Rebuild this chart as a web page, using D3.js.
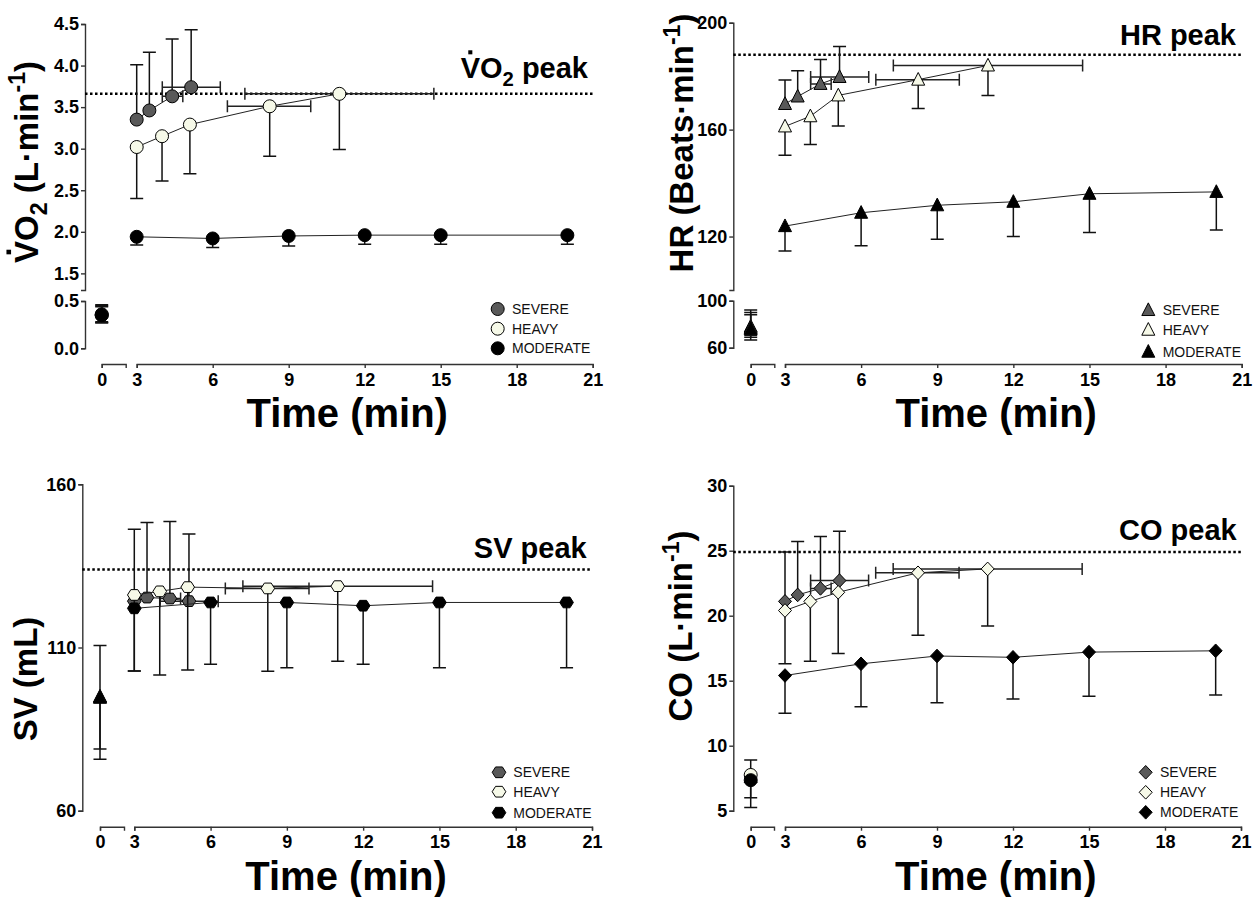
<!DOCTYPE html>
<html><head><meta charset="utf-8">
<script src="https://cdn.jsdelivr.net/npm/d3@7"></script>
<style>
body{margin:0;background:#fff}
svg{display:block}
text{font-family:"Liberation Sans",Arial,Helvetica,sans-serif}
</style>
</head><body>
<svg id="c" width="1259" height="897"></svg>
<script>
// ---------------- DATA ----------------
const groups = ["SEVERE", "HEAVY", "MODERATE"];
const severeTime = [3, 3.5, 4.4, 5.15];
const heavyTime = [3, 4, 5.1, 8.25, 11];
const moderateTime = [3, 6, 9, 12, 15, 20];
const severeTimeLo = [null, null, 4.01, 4.01];
const severeTimeHi = [null, null, 4.82, 6.3];
const heavyTimeLo = [null, null, null, 6.58, 7.27];
const heavyTimeHi = [null, null, null, 9.87, 14.73];
const xTickValues = [3, 6, 9, 12, 15, 18, 21];

// VO2 (L/min)
const vo2Severe = [3.35, 3.46, 3.63, 3.74];
const vo2SevereUp = [4.01, 4.16, 4.32, 4.43];
const vo2Heavy = [3.02, 3.15, 3.29, 3.51, 3.66];
const vo2HeavyDown = [2.40, 2.61, 2.70, 2.91, 2.99];
const vo2Moderate = [1.94, 1.92, 1.95, 1.96, 1.96, 1.96];
const vo2ModerateDown = [1.84, 1.81, 1.83, 1.85, 1.85, 1.85];
const vo2Base = [0.36, 0.35, 0.35];
const vo2BaseHi = [0.45, 0.44, 0.46];
const vo2BaseLo = [0.28, 0.27, 0.27];
const vo2Peak = 3.66;
const vo2UpperTicks = [1.5, 2.0, 2.5, 3.0, 3.5, 4.0, 4.5];
const vo2LowerTicks = [0.0, 0.5];

// HR (beats/min)
const hrSevere = [169.6, 172.4, 177.1, 179.7];
const hrSevereUp = [178.6, 182.0, 186.2, 191.1];
const hrHeavy = [161.2, 165.0, 172.8, 178.7, 184.0];
const hrHeavyDown = [150.4, 154.4, 161.4, 167.9, 172.8];
const hrModerate = [123.9, 128.9, 131.7, 133.0, 136.0, 136.7];
const hrModerateDown = [114.6, 116.6, 119.0, 120.0, 121.5, 122.4];
const hrBase = [78, 77, 76];
const hrBaseHi = [92, 90, 88];
const hrBaseLo = [70.5, 68.8, 66.5];
const hrPeak = 188;
const hrUpperTicks = [120, 160, 200];
const hrLowerTicks = [60, 100];

// SV (mL)
const svSevere = [124.2, 125.3, 125.0, 124.2];
const svSevereUp = [146.2, 148.3, 148.6, 144.8];
const svHeavy = [126.1, 127.2, 128.5, 128.1, 128.8];
const svHeavyDown = [102.8, 101.6, 103.1, 102.7, 105.8];
const svModerate = [122.0, 123.8, 123.8, 122.8, 123.8, 123.8];
const svModerateDown = [102.8, 104.9, 103.8, 104.9, 103.8, 103.8];
const svBase = [95.0, 94.8, 94.6];
const svBaseHi = [110.6, null, null];
const svBaseLo = [null, 78.9, 75.8];
const svPeak = 133.9;
const svTicks = [60, 110, 160];

// CO (L/min)
const coSevere = [21.1, 21.6, 22.1, 22.7];
const coSevereUp = [24.9, 25.7, 26.1, 26.5];
const coHeavy = [20.4, 21.1, 21.8, 23.3, 23.6];
const coHeavyDown = [16.3, 16.5, 17.1, 18.5, 19.2];
const coModerate = [15.4, 16.3, 16.9, 16.8, 17.2, 17.3];
const coModerateDown = [12.5, 13.0, 13.3, 13.6, 13.8, 13.9];
const coBase = [7.6, 7.75, 7.35];
const coBaseHi = [null, 8.9, null];
const coBaseLo = [6.0, null, 5.25];
const coPeak = 24.9;
const coTicks = [5, 10, 15, 20, 25, 30];

// ---------------- STYLE / LAYOUT ----------------
const fills = {SEVERE: "#595959", HEAVY: "#f6f9e8", MODERATE: "#000000"};
const svg = d3.select("#c");

function shapePath(shape, r) {
  if (shape === "circle") return d3.symbol(d3.symbolCircle, Math.PI * r * r)();
  if (shape === "triangle") return `M0,${-r*1.1}L${r},${r*0.85}L${-r},${r*0.85}Z`;
  if (shape === "diamond") return `M0,${-r*1.05}L${r},0L0,${r*1.05}L${-r},0Z`;
  if (shape === "hexagon") {
    const pts = d3.range(6).map(i => [r*1.05*Math.cos(i*Math.PI/3), r*0.95*Math.sin(i*Math.PI/3)]);
    return "M" + pts.map(p => p.join(",")).join("L") + "Z";
  }
}

const panels = [
  {shape: "circle", baseShapes: ["circle","circle","circle"],
   axisX: 85, x0: 101.7, x1e: 125.7, x3: 136.7, x21: 592.7, xAxisY: 364,
   broken: true, upperDomain: [1.3, 4.5], upperRange: [290, 24], lowerDomain: [0, 0.5], lowerRange: [348.3, 301],
   upperTicks: vo2UpperTicks, lowerTicks: vo2LowerTicks, fmt: d3.format(".1f"),
   vals: [vo2Severe, vo2Heavy, vo2Moderate], errs: [vo2SevereUp, vo2HeavyDown, vo2ModerateDown],
   base: vo2Base, baseHi: vo2BaseHi, baseLo: vo2BaseLo, peak: vo2Peak,
   title: [{t:"V", dot:true},{t:"O"},{t:"2", sub:true},{t:" peak"}], titleX: 588, titleY: 78,
   ylabel: [{t:"V", dot:true},{t:"O"},{t:"2", sub:true},{t:" (L·min"},{t:"-1", sup:true},{t:")"}], ylX: 38, ylY: 162,
   legX: 497.7, legTX: 512, legY: [309, 328.7, 348.3]},
  {shape: "triangle", baseShapes: ["triangle","triangle","triangle"],
   axisX: 733.3, x0: 750.7, x1e: 774.3, x3: 785, x21: 1241.7, xAxisY: 364,
   broken: true, upperDomain: [100, 200], upperRange: [290, 22.7], lowerDomain: [60, 100], lowerRange: [347.7, 300.7],
   upperTicks: hrUpperTicks, lowerTicks: hrLowerTicks, fmt: d3.format("d"),
   vals: [hrSevere, hrHeavy, hrModerate], errs: [hrSevereUp, hrHeavyDown, hrModerateDown],
   base: hrBase, baseHi: hrBaseHi, baseLo: hrBaseLo, peak: hrPeak,
   title: [{t:"HR peak"}], titleX: 1236, titleY: 45,
   ylabel: [{t:"HR (Beats·min"},{t:"-1", sup:true},{t:")"}], ylX: 693, ylY: 143,
   legX: 1148.3, legTX: 1162.7, legY: [310, 329.7, 351.7]},
  {shape: "hexagon", baseShapes: ["triangle","triangle","triangle"],
   axisX: 82.3, x0: 100, x1e: 124, x3: 134.3, x21: 592, xAxisY: 826.7,
   broken: false, domain: [60, 160], range: [810.7, 484.3], ticks: svTicks, fmt: d3.format("d"),
   vals: [svSevere, svHeavy, svModerate], errs: [svSevereUp, svHeavyDown, svModerateDown],
   base: svBase, baseHi: svBaseHi, baseLo: svBaseLo, peak: svPeak,
   title: [{t:"SV peak"}], titleX: 586.7, titleY: 558.3,
   ylabel: [{t:"SV (mL)"}], ylX: 37, ylY: 679,
   legX: 499, legTX: 513.3, legY: [772.3, 791.7, 812.7]},
  {shape: "diamond", baseShapes: ["triangle","circle","circle"],
   axisX: 733.3, x0: 750.7, x1e: 774, x3: 785, x21: 1241, xAxisY: 826.7,
   broken: false, domain: [5, 30], range: [810.7, 485.7], ticks: coTicks, fmt: d3.format("d"),
   vals: [coSevere, coHeavy, coModerate], errs: [coSevereUp, coHeavyDown, coModerateDown],
   base: coBase, baseHi: coBaseHi, baseLo: coBaseLo, peak: coPeak,
   title: [{t:"CO peak"}], titleX: 1236.7, titleY: 540,
   ylabel: [{t:"CO (L·min"},{t:"-1", sup:true},{t:")"}], ylX: 692, ylY: 626,
   legX: 1145.7, legTX: 1160, legY: [772.3, 792.3, 812.3]}
];

const times = [severeTime, heavyTime, moderateTime];
const tLo = [severeTimeLo, heavyTimeLo, null];
const tHi = [severeTimeHi, heavyTimeHi, null];

function styleAxis(sel) {
  sel.select(".domain").attr("stroke", "#333").attr("stroke-width", 1.4);
  sel.selectAll(".tick line").attr("stroke", "#333").attr("stroke-width", 1.4);
  sel.selectAll(".tick text").attr("fill", "#000").attr("font-size", 18).attr("font-weight", "bold")
     .attr("font-family", '"Liberation Sans",Arial,sans-serif');
}

function richText(parent, parts, size, anchor) {
  const t = parent.append("text").attr("font-size", size).attr("font-weight", "bold")
    .attr("text-anchor", anchor).attr("fill", "#000");
  let shift = 0;
  parts.forEach(p => {
    const ts = t.append("tspan").text(p.t);
    let target = 0;
    if (p.sub) { ts.attr("font-size", size * 0.7); target = size * 0.28; }
    if (p.sup) { ts.attr("font-size", size * 0.7); target = -size * 0.38; }
    ts.attr("dy", target - shift);
    shift = target;
  });
  parts.forEach((p, i) => {
    if (p.dot) {
      const ext = t.node().getExtentOfChar(0);
      const cx = ext.x + ext.width / 2;
      const capTop = -size * 0.716;
      parent.append("rect").attr("x", cx - size * 0.07).attr("y", capTop - size * 0.1 - size * 0.14)
        .attr("width", size * 0.14).attr("height", size * 0.14).attr("fill", "#000");
    }
  });
  return t;
}

panels.forEach(p => {
  const g = svg.append("g");
  const xs1 = d3.scaleLinear().domain([0, 1]).range([p.x0, p.x1e]);
  const xs2 = d3.scaleLinear().domain([3, 21]).range([p.x3, p.x21]);
  const X = t => t < 2 ? xs1(t) : xs2(t);
  let Y;
  if (p.broken) {
    const yu = d3.scaleLinear().domain(p.upperDomain).range(p.upperRange);
    const yl = d3.scaleLinear().domain(p.lowerDomain).range(p.lowerRange);
    Y = v => v <= p.lowerDomain[1] + 1e-9 ? yl(v) : yu(v);
    [[yu, p.upperTicks], [yl, p.lowerTicks]].forEach(([s, tk]) => {
      g.append("g").attr("transform", `translate(${p.axisX},0)`)
        .call(d3.axisLeft(s).tickValues(tk).tickSize(4).tickSizeOuter(4).tickPadding(2).tickFormat(p.fmt))
        .call(styleAxis);
    });
  } else {
    const ys = d3.scaleLinear().domain(p.domain).range(p.range);
    Y = ys;
    g.append("g").attr("transform", `translate(${p.axisX},0)`)
      .call(d3.axisLeft(ys).tickValues(p.ticks).tickSize(4).tickSizeOuter(4).tickPadding(2).tickFormat(p.fmt))
      .call(styleAxis);
  }
  g.append("g").attr("transform", `translate(0,${p.xAxisY})`)
    .call(d3.axisBottom(xs1).tickValues([0]).tickSize(4).tickSizeOuter(4).tickPadding(5).tickFormat(d3.format("d")))
    .call(styleAxis);
  g.append("g").attr("transform", `translate(0,${p.xAxisY})`)
    .call(d3.axisBottom(xs2).tickValues(xTickValues).tickSize(4).tickSizeOuter(4).tickPadding(5).tickFormat(d3.format("d")))
    .call(styleAxis);

  g.append("text").attr("x", (p.x0 + p.x21) / 2).attr("y", p.xAxisY + 63)
    .attr("text-anchor", "middle").attr("font-size", 40).attr("font-weight", "bold").text("Time (min)");

  const yl = g.append("g").attr("transform", `translate(${p.ylX},${p.ylY}) rotate(-90)`);
  richText(yl, p.ylabel, 33, "middle");

  g.append("line").attr("x1", p.axisX).attr("x2", p.x21).attr("y1", Y(p.peak)).attr("y2", Y(p.peak))
    .attr("stroke", "#000").attr("stroke-width", 2.5).attr("stroke-dasharray", "2.5,2.5");
  const tg = g.append("g").attr("transform", `translate(${p.titleX},${p.titleY})`);
  richText(tg, p.title, 29, "end");

  groups.forEach((name, gi) => {
    const ts = times[gi], vs = p.vals[gi], es = p.errs[gi];
    const pts = ts.map((t, i) => ({t, v: vs[i], e: es[i], lo: tLo[gi] ? tLo[gi][i] : null, hi: tHi[gi] ? tHi[gi][i] : null}));
    const sg = g.append("g");
    sg.append("path").attr("d", d3.line().x(d => X(d.t)).y(d => Y(d.v))(pts))
      .attr("fill", "none").attr("stroke", "#222").attr("stroke-width", 1);
    sg.selectAll("path.ev").data(pts).join("path").attr("class", "ev")
      .attr("d", d => { const x = X(d.t), y0 = Y(d.v), y1 = Y(d.e);
        return `M${x},${y0}V${y1}M${x-6.5},${y1}H${x+6.5}`; })
      .attr("stroke", "#111").attr("stroke-width", 1.5).attr("fill", "none");
    sg.selectAll("path.eh").data(pts.filter(d => d.lo != null)).join("path").attr("class", "eh")
      .attr("d", d => { const y = Y(d.v), a = X(d.lo), b = X(d.hi);
        return `M${a},${y}H${b}M${a},${y-6}V${y+6}M${b},${y-6}V${y+6}`; })
      .attr("stroke", "#222").attr("stroke-width", 1.5).attr("fill", "none");
    sg.selectAll("path.mk").data(pts).join("path").attr("class", "mk")
      .attr("transform", d => `translate(${X(d.t)},${Y(d.v)})`)
      .attr("d", shapePath(p.shape, 6.5))
      .attr("fill", fills[name]).attr("stroke", "#000").attr("stroke-width", 1);
  });

  groups.forEach((name, gi) => {
    const x = X(0), v = p.base[gi];
    const bg = g.append("g");
    [p.baseHi[gi], p.baseLo[gi]].forEach(e => {
      if (e == null) return;
      bg.append("path").attr("d", `M${x},${Y(v)}V${Y(e)}M${x-6.5},${Y(e)}H${x+6.5}`)
        .attr("stroke", "#111").attr("stroke-width", 1.5).attr("fill", "none");
    });
    bg.append("path").attr("transform", `translate(${x},${Y(v)})`)
      .attr("d", shapePath(p.baseShapes[gi], 6.5))
      .attr("fill", fills[name]).attr("stroke", "#000").attr("stroke-width", 1);
  });

  groups.forEach((name, gi) => {
    g.append("path").attr("transform", `translate(${p.legX},${p.legY[gi]})`)
      .attr("d", shapePath(p.shape, 6.5))
      .attr("fill", fills[name]).attr("stroke", "#000").attr("stroke-width", 1);
    g.append("text").attr("x", p.legTX).attr("y", p.legY[gi]).attr("dy", "0.36em")
      .attr("font-size", 14).attr("fill", "#111").text(name);
  });
});
</script>
</body></html>
